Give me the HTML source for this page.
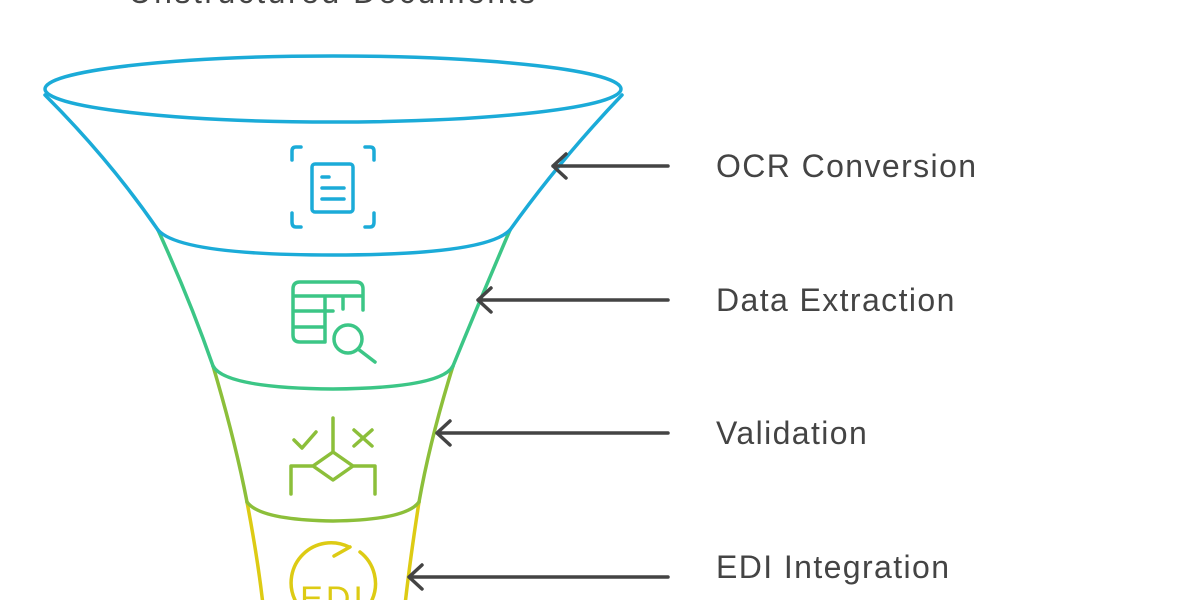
<!DOCTYPE html>
<html><head><meta charset="utf-8"><style>
html,body{margin:0;padding:0;background:#fff;width:1200px;height:600px;overflow:hidden}
svg{display:block}
text{font-family:"Liberation Sans",sans-serif;fill:#444}
</style></head><body>
<svg width="1200" height="600" viewBox="0 0 1200 600" xmlns="http://www.w3.org/2000/svg">
<text x="333" y="3" font-size="32" letter-spacing="2.5" text-anchor="middle">Unstructured Documents</text>
<g fill="none" stroke-width="3.5" stroke-linecap="round" stroke-linejoin="round">
<!-- yellow -->
<g stroke="#DDCB14">
<path d="M247,502 Q258,560 263,605"/>
<path d="M419,502 Q410,560 405,605"/>
<path d="M295,600 A40,40 0 0 1 349,547 M350,547 L334,556 M360,552 A40,40 0 0 1 372,600"/>
</g>
<text x="333" y="610" font-size="34" text-anchor="middle" letter-spacing="3" style="fill:#DDCB14">EDI</text>
<!-- olive -->
<g stroke="#8CBF3A">
<path d="M213,366 Q235,440 247,502"/>
<path d="M453,366 Q430,440 419,502"/>
<path d="M247,502 Q260,520 333,521 Q406,520 419,502"/>
<path d="M333,418 V452 M294,440 L302,448 L316,432 M354,430 L372,446 M372,430 L354,446 M333,452 L353,466 L333,480 L313,466 Z M313,466 H291 V494 M353,466 H375 V494"/>
</g>
<!-- green -->
<g stroke="#3CC686">
<path d="M158,230 Q190,300 213,366"/>
<path d="M510,230 Q480,300 453,366"/>
<path d="M213,366 Q225,388 333,389 Q441,388 453,366"/>
<path d="M325,342 H300 Q293,342 293,335 V289 Q293,282 300,282 H356 Q363,282 363,289 V310 M293,296 H363 M293,311 H333 M293,327 H325 M325,296 V342 M343,296 V309"/>
<circle cx="348" cy="339" r="14"/>
<path d="M358,349 L375,362"/>
</g>
<!-- blue -->
<g stroke="#1BABD8">
<ellipse cx="333" cy="89" rx="288" ry="33"/>
<path d="M45,95 Q110,160 158,230"/>
<path d="M622,95 Q560,160 510,230"/>
<path d="M158,230 Q180,255 333,255 Q486,255 510,230"/>
<path d="M292,160 V151 Q292,147 296,147 H301 M365,147 H370 Q374,147 374,151 V160 M292,213 V222 Q292,227 296,227 H301 M365,227 H370 Q374,227 374,222 V213"/>
<rect x="312" y="164" width="41" height="48" rx="3"/>
<path d="M322,177 H329 M322,188 H344 M322,199 H344"/>
</g>
<!-- arrows -->
<g stroke="#444">
<path d="M668,166 H553 M566,154 L553,166 L566,178"/>
<path d="M668,300 H478 M491,288 L478,300 L491,312"/>
<path d="M668,433 H437 M450,421 L437,433 L450,445"/>
<path d="M668,577 H409 M422,565 L409,577 L422,589"/>
</g>
</g>
<text x="716" y="177" font-size="32" letter-spacing="1.4">OCR Conversion</text>
<text x="716" y="311" font-size="32" letter-spacing="1.4">Data Extraction</text>
<text x="716" y="444" font-size="32" letter-spacing="1.4">Validation</text>
<text x="716" y="578" font-size="32" letter-spacing="1.4">EDI Integration</text>
</svg>
</body></html>
